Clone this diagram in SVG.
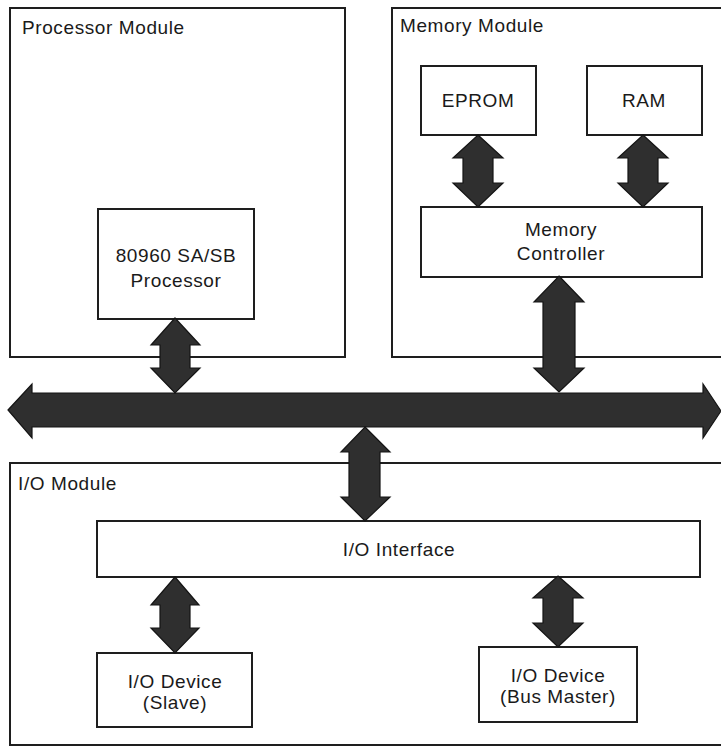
<svg xmlns="http://www.w3.org/2000/svg" width="721" height="747" viewBox="0 0 721 747">
<style>
.mod{fill:none;stroke:#1e1e1e;stroke-width:2}
.box{fill:#fff;stroke:#1e1e1e;stroke-width:2}
.t{font-family:"Liberation Sans",Arial,sans-serif;font-size:19px;fill:#1a1a1a;letter-spacing:0.6px}
.c{text-anchor:middle}
.arr{fill:#2f2f2f;stroke:#141414;stroke-width:1.2;stroke-linejoin:miter}
</style>
<rect width="721" height="747" fill="#fff"/>
<g id="processor-module">
<rect class="mod" x="10" y="8" width="335" height="349"/>
<text class="t" x="22" y="34">Processor Module</text>
</g>
<g id="processor">
<rect class="box" x="98" y="209" width="156" height="110"/>
<text class="t c" x="176" y="262">80960 SA/SB</text>
<text class="t c" x="176" y="287">Processor</text>
</g>
<g id="memory-module">
<rect class="mod" x="392" y="8" width="330" height="349"/>
<text class="t" x="400" y="32">Memory Module</text>
</g>
<g id="eprom">
<rect class="box" x="421" y="66" width="115" height="69"/>
<text class="t c" x="478" y="107">EPROM</text>
</g>
<g id="ram">
<rect class="box" x="587" y="66" width="115" height="69"/>
<text class="t c" x="644" y="107">RAM</text>
</g>
<g id="memory-controller">
<rect class="box" x="421" y="207" width="281" height="70"/>
<text class="t c" x="561" y="236">Memory</text>
<text class="t c" x="561" y="260">Controller</text>
</g>
<g id="io-module">
<rect class="mod" x="10" y="463" width="712" height="282"/>
<text class="t" x="18" y="490">I/O Module</text>
</g>
<g id="io-interface">
<rect class="box" x="97" y="521" width="603" height="56"/>
<text class="t c" x="399" y="556">I/O Interface</text>
</g>
<g id="io-slave">
<rect class="box" x="97" y="653" width="155" height="74"/>
<text class="t c" x="175" y="688">I/O Device</text>
<text class="t c" x="175" y="709">(Slave)</text>
</g>
<g id="io-master">
<rect class="box" x="479" y="647" width="158" height="75"/>
<text class="t c" x="558" y="682">I/O Device</text>
<text class="t c" x="558" y="703">(Bus Master)</text>
</g>
<g id="connectors">
<path id="bus" class="arr" d="M8,410 L32,384 L32,393 L703,393 L703,384 L721,411 L703,438 L703,427 L32,427 L32,438 Z"/>
<path class="arr" d="M175,318 L200,345 L190,345 L190,368 L200,368 L175,393 L151,368 L160,368 L160,345 L151,345 Z"/>
<path class="arr" d="M559,276 L584,302 L575,302 L575,368 L584,368 L559,392 L534,368 L543,368 L543,302 L534,302 Z"/>
<path class="arr" d="M478,135 L503,158 L493,158 L493,183 L503,183 L478,207 L453,183 L463,183 L463,158 L453,158 Z"/>
<path class="arr" d="M643,135 L668,158 L658,158 L658,183 L668,183 L643,207 L618,183 L628,183 L628,158 L618,158 Z"/>
<path class="arr" d="M365,427 L390,452 L380,452 L380,497 L390,497 L365,521 L341,497 L349,497 L349,452 L341,452 Z"/>
<path class="arr" d="M175,577 L199,605 L190,605 L190,628 L199,628 L175,653 L151,628 L160,628 L160,605 L151,605 Z"/>
<path class="arr" d="M558,576 L583,598 L573,598 L573,623 L583,623 L558,647 L533,623 L543,623 L543,598 L533,598 Z"/>
</g>
</svg>
